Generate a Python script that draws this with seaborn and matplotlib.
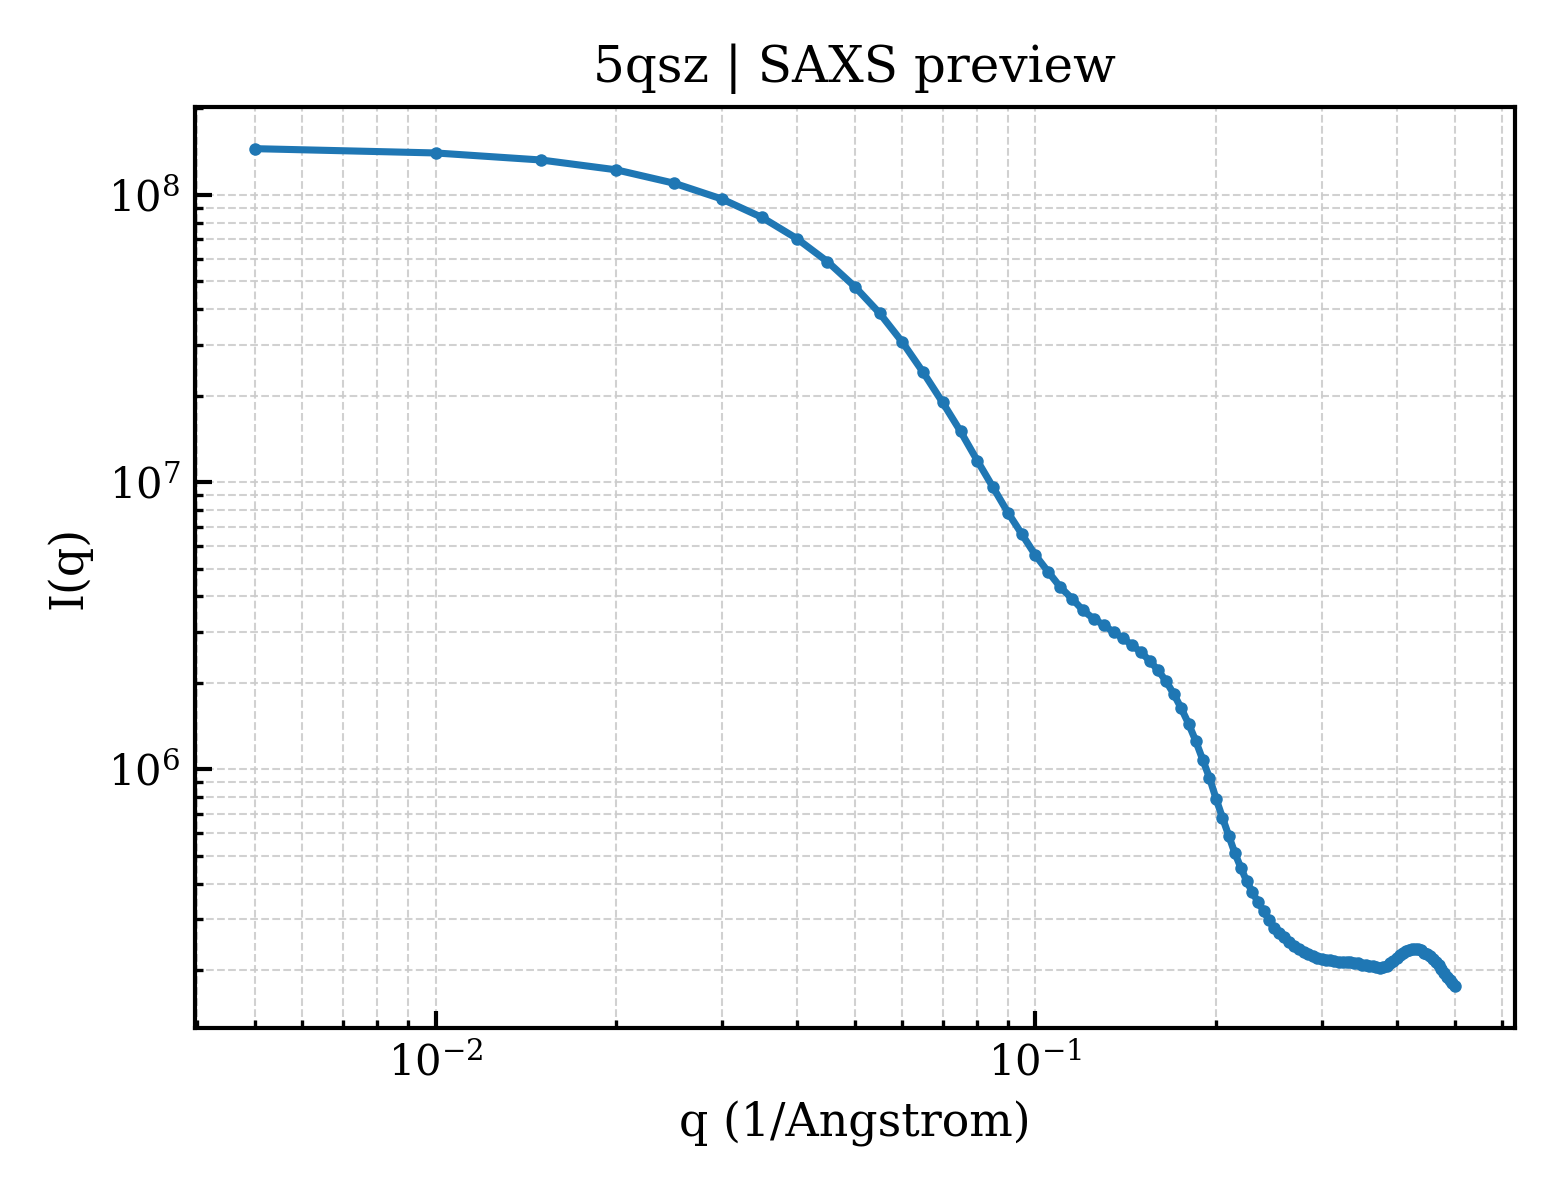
import matplotlib
matplotlib.use("Agg")
import matplotlib.pyplot as plt
import seaborn as sns
import pandas as pd

q_values = [
    0.005, 0.010, 0.015, 0.020, 0.025, 0.030, 0.035, 0.040, 0.045, 0.050,
    0.055, 0.060, 0.065, 0.070, 0.075, 0.080, 0.085, 0.090, 0.095, 0.100,
    0.105, 0.110, 0.115, 0.120, 0.125, 0.130, 0.135, 0.140, 0.145, 0.150,
    0.155, 0.160, 0.165, 0.170, 0.175, 0.180, 0.185, 0.190, 0.195, 0.200,
    0.205, 0.210, 0.215, 0.220, 0.225, 0.230, 0.235, 0.240, 0.245, 0.250,
    0.255, 0.260, 0.265, 0.270, 0.275, 0.280, 0.285, 0.290, 0.295, 0.300,
    0.305, 0.310, 0.315, 0.320, 0.325, 0.330, 0.335, 0.340, 0.345, 0.350,
    0.355, 0.360, 0.365, 0.370, 0.375, 0.380, 0.385, 0.390, 0.395, 0.400,
    0.405, 0.410, 0.415, 0.420, 0.425, 0.430, 0.435, 0.440, 0.445, 0.450,
    0.455, 0.460, 0.465, 0.470, 0.475, 0.480, 0.485, 0.490, 0.495, 0.500,
]

intensity = [
    1.449e8, 1.400e8, 1.323e8, 1.223e8, 1.098e8, 9.68e7, 8.35e7, 7.05e7, 5.86e7, 4.79e7,
    3.87e7, 3.07e7, 2.41e7, 1.896e7, 1.502e7, 1.187e7, 9.58e6, 7.82e6, 6.57e6, 5.56e6,
    4.87e6, 4.31e6, 3.93e6, 3.58e6, 3.34e6, 3.18e6, 3.00e6, 2.86e6, 2.70e6, 2.555e6,
    2.385e6, 2.215e6, 2.03e6, 1.83e6, 1.63e6, 1.44e6, 1.255e6, 1.08e6, 9.35e5, 7.90e5,
    6.78e5, 5.87e5, 5.10e5, 4.54e5, 4.07e5, 3.73e5, 3.44e5, 3.22e5, 2.98e5, 2.81e5,
    2.70e5, 2.60e5, 2.50e5, 2.42e5, 2.36e5, 2.31e5, 2.27e5, 2.24e5, 2.21e5, 2.19e5,
    2.17e5, 2.16e5, 2.15e5, 2.14e5, 2.14e5, 2.13e5, 2.13e5, 2.12e5, 2.11e5, 2.09e5,
    2.08e5, 2.07e5, 2.06e5, 2.05e5, 2.04e5, 2.05e5, 2.07e5, 2.11e5, 2.15e5, 2.20e5,
    2.25e5, 2.29e5, 2.33e5, 2.35e5, 2.36e5, 2.36e5, 2.36e5, 2.34e5, 2.30e5, 2.27e5,
    2.23e5, 2.18e5, 2.14e5, 2.08e5, 2.02e5, 1.95e5, 1.89e5, 1.84e5, 1.80e5, 1.76e5,
]

title_text = "5qsz | SAXS preview"
x_label = "q (1/Angstrom)"
y_label = "I(q)"

sns.set_style("ticks")
plt.rcParams["font.family"] = ["DejaVu Serif"]
plt.rcParams["mathtext.fontset"] = "dejavuserif"
plt.rcParams["text.color"] = "black"
plt.rcParams["axes.labelcolor"] = "black"
plt.rcParams["xtick.color"] = "black"
plt.rcParams["ytick.color"] = "black"

df = pd.DataFrame({"q": q_values, "I": intensity})

fig, ax = plt.subplots(figsize=(5.2, 4), dpi=300)
fig.subplots_adjust(left=0.125, right=0.971, top=0.911, bottom=0.1435)

sns.lineplot(data=df, x="q", y="I", ax=ax, color="#1f77b4", linewidth=1.7,
             marker="o", markersize=3, markeredgewidth=0, sort=False)

ax.set_xscale("log")
ax.set_yscale("log")

ax.grid(True, which="both", linestyle="--", linewidth=0.5, color="#cccccc", alpha=0.9)
ax.set_axisbelow(True)

ax.tick_params(which="both", direction="in", top=False, right=False, labelsize=10,
               colors="black")
ax.tick_params(which="major", length=4, width=1.0)
ax.tick_params(which="minor", length=2, width=0.8)
for sp in ax.spines.values():
    sp.set_linewidth(1.0)
    sp.set_color("black")

ax.set_title(title_text, fontsize=12, color="black")
ax.set_xlabel(x_label, fontsize=11, color="black")
ax.set_ylabel(y_label, fontsize=11, color="black")

fig.savefig("out.png", dpi=300)
